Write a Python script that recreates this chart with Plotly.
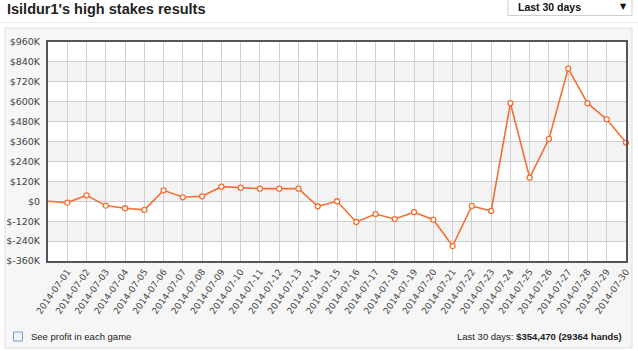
import plotly.graph_objects as go

# ---- data ----
dates = ["2014-07-%02d" % d for d in range(1, 31)]
start_value = 0
profits_k = [-8, 36, -26, -42, -52, 66, 24, 30, 88, 82,
             76, 76, 76, -30, 0, -125, -77, -107, -66, -111,
             -270, -28, -58, 591, 142, 376, 800, 591, 494, 354]
y_ticks_k = list(range(-360, 961, 120))
y_tick_text = [("$%dK" % v) if v != 0 else "$0" for v in y_ticks_k]

W, H = 638, 351
L, R, T, B = 48, 626, 42, 261
ORANGE = "#f27035"


def px(x):
    return (x - L) / (R - L)


def py(y):
    return (B - y) / (B - T)


x_idx = list(range(0, len(dates) + 1))
y_all = [start_value] + [v * 1000 for v in profits_k]

fig = go.Figure()

# line including starting point
fig.add_trace(go.Scatter(
    x=x_idx, y=y_all, mode="lines",
    line=dict(color=ORANGE, width=1.6),
    hoverinfo="skip", showlegend=False))
# markers on each day
fig.add_trace(go.Scatter(
    x=x_idx[1:], y=y_all[1:], mode="markers", cliponaxis=False,
    marker=dict(size=5, color="white", line=dict(color=ORANGE, width=1.3)),
    showlegend=False))

shapes = []
# container panel
shapes.append(dict(type="rect", xref="paper", yref="paper",
                   x0=px(5), x1=px(632), y0=py(348), y1=py(28),
                   fillcolor="#f6f6f6", line=dict(color="#dcdcdc", width=1),
                   layer="below"))
# title divider
shapes.append(dict(type="line", xref="paper", yref="paper",
                   x0=px(0), x1=px(638), y0=py(22.5), y1=py(22.5),
                   line=dict(color="#ececec", width=1), layer="below"))
# plot background white
shapes.append(dict(type="rect", xref="paper", yref="paper",
                   x0=0, x1=1, y0=0, y1=1, fillcolor="white",
                   line=dict(width=0), layer="below"))
# alternating bands
for i, lo in enumerate(y_ticks_k[:-1]):
    if i % 2 == 1:
        shapes.append(dict(type="rect", xref="paper", yref="y",
                           x0=0, x1=1, y0=lo * 1000, y1=(lo + 120) * 1000,
                           fillcolor="#f3f3f3", line=dict(width=0),
                           layer="below"))
# dropdown box
shapes.append(dict(type="rect", xref="paper", yref="paper",
                   x0=px(508), x1=px(632), y0=py(15.5), y1=py(-3),
                   fillcolor="white", line=dict(color="#cfcfcf", width=1)))
# checkbox
shapes.append(dict(type="rect", xref="paper", yref="paper",
                   x0=px(13.5), x1=px(22.5), y0=py(341), y1=py(332),
                   fillcolor="#eef3f9", line=dict(color="#7f9cc0", width=1)))

annotations = [
    dict(text="<b>Isildur1's high stakes results</b>", xref="paper", yref="paper",
         x=px(5), y=py(9), xanchor="left", yanchor="middle", showarrow=False,
         font=dict(family="Liberation Sans", size=14.5, color="#222")),
    dict(text="<b>Last 30 days</b>", xref="paper", yref="paper",
         x=px(516), y=py(7), xanchor="left", yanchor="middle", showarrow=False,
         font=dict(family="Liberation Sans", size=10.5, color="#111")),
    dict(text="▼", xref="paper", yref="paper",
         x=px(623), y=py(7), xanchor="center", yanchor="middle", showarrow=False,
         font=dict(family="DejaVu Sans", size=8, color="#111")),
    dict(text="See profit in each game", xref="paper", yref="paper",
         x=px(29), y=py(336), xanchor="left", yanchor="middle", showarrow=False,
         font=dict(family="Liberation Sans", size=9.5, color="#222")),
    dict(text="Last 30 days: <b>$354,470 (29364 hands)</b>", xref="paper", yref="paper",
         x=px(624), y=py(336), xanchor="right", yanchor="middle", showarrow=False,
         font=dict(family="Liberation Sans", size=9.5, color="#222")),
]

fig.update_layout(
    width=W, height=H,
    margin=dict(l=L, r=W - R, t=T, b=H - B, pad=0),
    paper_bgcolor="white", plot_bgcolor="rgba(0,0,0,0)",
    shapes=shapes, annotations=annotations,
    showlegend=False,
    xaxis=dict(range=[0, len(dates)], tickmode="array", automargin=False,
               tickvals=list(range(1, len(dates) + 1)), ticktext=dates,
               tickangle=-55, showgrid=True, gridcolor="#cfcfcf", gridwidth=1,
               zeroline=False, showline=True, linecolor="#555", linewidth=2,
               mirror=True, ticks="", tickfont=dict(family="DejaVu Sans", size=9, color="#444")),
    yaxis=dict(range=[-360000, 960000], tickmode="array", automargin=False,
               tickvals=[v * 1000 for v in y_ticks_k], ticktext=y_tick_text,
               showgrid=True, gridcolor="#cfcfcf", gridwidth=1, zeroline=False,
               showline=True, linecolor="#555", linewidth=2, mirror=True,
               ticks="", ticklabelstandoff=4,
               tickfont=dict(family="DejaVu Sans", size=9.5, color="#444")),
)

fig.write_html("out.html")
